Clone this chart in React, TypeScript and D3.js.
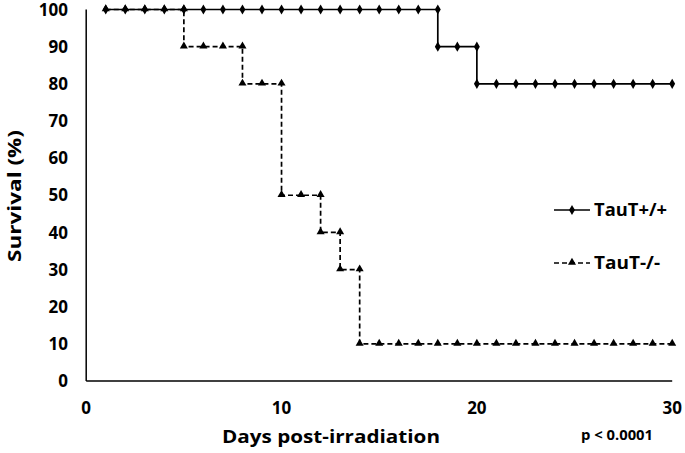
import React from "react";
import * as d3 from "d3";

const wtDays = [1,2,3,4,5,6,7,8,9,10,11,12,13,14,15,16,17,18,18,19,20,20,21,22,23,24,25,26,27,28,29,30];
const wtSurvival = [100,100,100,100,100,100,100,100,100,100,100,100,100,100,100,100,100,100,90,90,90,80,80,80,80,80,80,80,80,80,80,80];
const koDays = [1,2,3,4,5,5,6,7,8,8,9,10,10,11,12,12,13,13,14,14,15,16,17,18,19,20,21,22,23,24,25,26,27,28,29,30];
const koSurvival = [100,100,100,100,100,90,90,90,90,80,80,80,50,50,50,40,40,30,30,10,10,10,10,10,10,10,10,10,10,10,10,10,10,10,10,10];
const xTicks = [0, 10, 20, 30];
const yTicks = [0, 10, 20, 30, 40, 50, 60, 70, 80, 90, 100];
const seriesNames = ["TauT+/+", "TauT-/-"];

export default function App() {
  const W = 685, H = 453;
  const x = d3.scaleLinear().domain([0, 30]).range([86.2, 672.2]);
  const y = d3.scaleLinear().domain([0, 100]).range([381, 9.5]);
  const font = "'Open Sans', 'Noto Sans', sans-serif";
  const line = d3.line<[number, number]>().x(d => x(d[0])).y(d => y(d[1]));
  const wt: [number, number][] = wtDays.map((d, i) => [d, wtSurvival[i]]);
  const ko: [number, number][] = koDays.map((d, i) => [d, koSurvival[i]]);
  const diamond = d3.symbol().type(d3.symbolDiamond).size(30)()!;
  const tri = d3.symbol().type(d3.symbolTriangle).size(28)()!;

  return (
    <svg width={W} height={H} style={{ position: "absolute", left: 0, top: 0, background: "#fff" }}>
      <rect width={W} height={H} fill="#fff" />
      {/* axes */}
      <line x1={x(0)} x2={x(0)} y1={y(100)} y2={y(0)} stroke="#000" strokeWidth={1.5} />
      <line x1={x(0)} x2={x(30)} y1={y(0)} y2={y(0)} stroke="#000" strokeWidth={1.5} />
      {yTicks.map(t => (
        <text key={"y" + t} x={68} y={y(t)} dy="0.36em" textAnchor="end" fontFamily={font} fontWeight={700} fontSize={17} fill="#000">{t}</text>
      ))}
      {xTicks.map(t => (
        <text key={"x" + t} x={x(t)} y={408} dy="0.36em" textAnchor="middle" fontFamily={font} fontWeight={700} fontSize={17} fill="#000">{t}</text>
      ))}
      <text x={331} y={437} dy="0.36em" textAnchor="middle" fontFamily={font} fontWeight={700} fontSize={18} textLength={218} lengthAdjust="spacingAndGlyphs" fill="#000">Days post-irradiation</text>
      <text x={617} y={435} dy="0.36em" textAnchor="middle" fontFamily={font} fontWeight={700} fontSize={14} textLength={72} lengthAdjust="spacingAndGlyphs" fill="#000">p &lt; 0.0001</text>
      <text transform={`translate(15,196) rotate(-90)`} dy="0.36em" textAnchor="middle" fontFamily={font} fontWeight={700} fontSize={18} textLength={132} lengthAdjust="spacingAndGlyphs" fill="#000">Survival (%)</text>

      {/* series */}
      <path d={line(wt)!} fill="none" stroke="#000" strokeWidth={1.7} />
      {wt.map((d, i) => (
        <path key={"wm" + i} d={diamond} transform={`translate(${x(d[0])},${y(d[1])})`} fill="#000" />
      ))}
      <path d={line(ko)!} fill="none" stroke="#000" strokeWidth={1.7} strokeDasharray="5,3" />
      {ko.map((d, i) => (
        <path key={"km" + i} d={tri} transform={`translate(${x(d[0])},${y(d[1]) - 0.5})`} fill="#000" />
      ))}

      {/* legend */}
      <line x1={554} x2={590} y1={210} y2={210} stroke="#000" strokeWidth={1.7} />
      <path d={diamond} transform="translate(572,210)" fill="#000" />
      <text x={594} y={210} dy="0.36em" fontFamily={font} fontWeight={700} fontSize={18} textLength={73} lengthAdjust="spacingAndGlyphs" fill="#000">{seriesNames[0]}</text>
      <line x1={554} x2={590} y1={263} y2={263} stroke="#000" strokeWidth={1.7} strokeDasharray="5,3" />
      <path d={tri} transform="translate(572,262.5)" fill="#000" />
      <text x={594} y={263} dy="0.36em" fontFamily={font} fontWeight={700} fontSize={18} textLength={66} lengthAdjust="spacingAndGlyphs" fill="#000">{seriesNames[1]}</text>
    </svg>
  );
}
